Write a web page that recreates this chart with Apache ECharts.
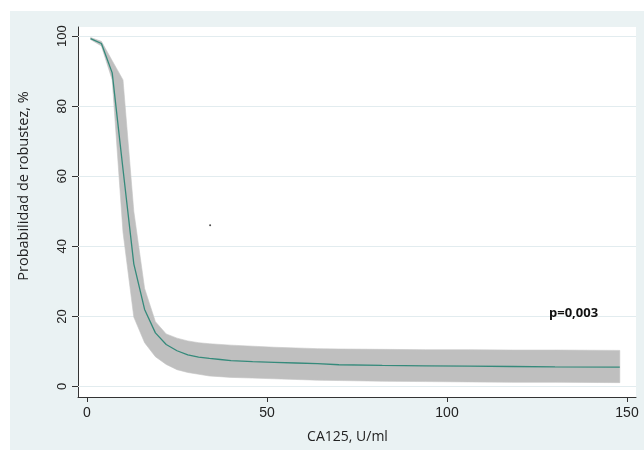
<!DOCTYPE html>
<html>
<head>
<meta charset="utf-8">
<script src="https://cdn.jsdelivr.net/npm/echarts@6/dist/echarts.min.js"></script>
<style>
  html, body { margin: 0; padding: 0; background: #fff; }
  #wrap { position: relative; width: 644px; height: 450px; background: #fff; }
  #chart { position: absolute; left: 10px; top: 11px; width: 634px; height: 439px; }
</style>
</head>
<body>
<div id="wrap"><div id="chart"></div></div>
<script>
// CA125 vs probabilidad de robustez (curva + IC 95%)
const ca125 = [1, 4, 7, 10, 13, 16, 19, 22, 25, 28, 31, 34, 37, 40, 46, 52, 58, 64, 70, 82, 94, 106, 118, 130, 148];
const prob  = [99.3, 97.9, 89.5, 62, 35, 22, 15.3, 12, 10.2, 9.0, 8.4, 8.0, 7.7, 7.4, 7.1, 6.9, 6.7, 6.5, 6.2, 6.0, 5.9, 5.8, 5.7, 5.6, 5.5];
const ciUpper = [99.6, 98.5, 93, 87.5, 50, 28, 18.5, 15, 13.8, 13.0, 12.5, 12.2, 12.0, 11.8, 11.5, 11.2, 11.0, 10.8, 10.7, 10.6, 10.5, 10.5, 10.4, 10.4, 10.3];
const ciLower = [99.0, 97.2, 87.5, 44, 19.8, 12.5, 8.5, 6.3, 4.8, 4.0, 3.5, 3.0, 2.8, 2.6, 2.4, 2.2, 2.0, 1.8, 1.7, 1.5, 1.4, 1.3, 1.2, 1.2, 1.1];
const strayDot = [[34.2, 46]];

const yTicks = [0, 20, 40, 60, 80, 100];
const xTicks = [0, 50, 100, 150];

const chart = echarts.init(document.getElementById('chart'));

// Banda del intervalo de confianza como polígono
function renderBand(params, api) {
    const top = ca125.map((x, i) => api.coord([x, ciUpper[i]]));
    const bottom = ca125.map((x, i) => api.coord([x, ciLower[i]])).reverse();
    return {
        type: 'polygon',
        shape: { points: top.concat(bottom) },
        style: { fill: '#bfbfbf', stroke: '#c4c4c4', lineWidth: 0.6 },
        silent: true
    };
}

// Líneas de rejilla horizontales (debajo de la banda)
function renderGrid(params, api) {
    const x0 = api.coord([-2.5, 0])[0];
    const x1 = api.coord([152.5, 0])[0];
    return {
        type: 'group',
        children: yTicks.map(v => {
            const y = Math.round(api.coord([0, v])[1]) + 0.5;
            return {
                type: 'line',
                shape: { x1: x0, y1: y, x2: x1, y2: y },
                style: { stroke: '#e2ecef', lineWidth: 1 },
                silent: true
            };
        })
    };
}

const option = {
    backgroundColor: '#eaf2f3',
    animation: false,
    grid: {
        left: 68,
        right: 8,
        top: 16,
        bottom: 53,
        outerBoundsMode: 'none',
        containLabel: false,
        show: true,
        backgroundColor: '#ffffff',
        borderWidth: 0
    },
    xAxis: {
        type: 'value',
        min: -2.5,
        max: 152.5,
        name: 'CA125, U/ml',
        nameLocation: 'middle',
        nameGap: 33,
        nameTextStyle: {
            fontFamily: 'Open Sans',
            fontSize: 14,
            color: '#222',
            padding: [0, 19, 0, 0]
        },
        axisLine: { onZero: false, lineStyle: { color: '#333', width: 1 } },
        axisTick: { customValues: xTicks, length: 5, lineStyle: { color: '#333' } },
        axisLabel: {
            customValues: xTicks,
            margin: 9,
            fontFamily: 'Liberation Sans',
            fontSize: 14,
            color: '#222'
        },
        splitLine: { show: false }
    },
    yAxis: {
        type: 'value',
        min: -3,
        max: 102.6,
        name: 'Probabilidad de robustez, %',
        nameLocation: 'middle',
        nameGap: 47,
        nameTextStyle: {
            fontFamily: 'Open Sans',
            fontSize: 14.5,
            color: '#222',
            padding: [0, 0, 0, 52]
        },
        axisLine: { show: true, onZero: false, lineStyle: { color: '#333', width: 1 } },
        axisTick: { show: true, customValues: yTicks, length: 6, lineStyle: { color: '#333' } },
        axisLabel: {
            customValues: yTicks,
            rotate: 90,
            margin: 9,
            fontFamily: 'Liberation Sans',
            fontSize: 13,
            color: '#222'
        },
        splitLine: { show: false }
    },
    graphic: [{
        type: 'text',
        left: 539,
        top: 296,
        z: 100,
        style: {
            text: 'p=0,003',
            fontFamily: 'Open Sans',
            fontWeight: 'bold',
            fontSize: 13,
            fill: '#111'
        }
    }],
    series: [
        {
            type: 'custom',
            renderItem: renderGrid,
            data: [0],
            silent: true,
            z: 1
        },
        {
            type: 'custom',
            renderItem: renderBand,
            data: [0],
            silent: true,
            z: 2
        },
        {
            name: 'Probabilidad',
            type: 'line',
            data: ca125.map((x, i) => [x, prob[i]]),
            symbol: 'none',
            lineStyle: { color: '#358a7b', width: 1.3 },
            z: 3
        },
        {
            type: 'scatter',
            data: strayDot,
            symbolSize: 2,
            itemStyle: { color: '#222' },
            z: 4
        }
    ]
};

chart.setOption(option);

window.addEventListener('resize', function () {
    chart.resize();
});
</script>
</body>
</html>
